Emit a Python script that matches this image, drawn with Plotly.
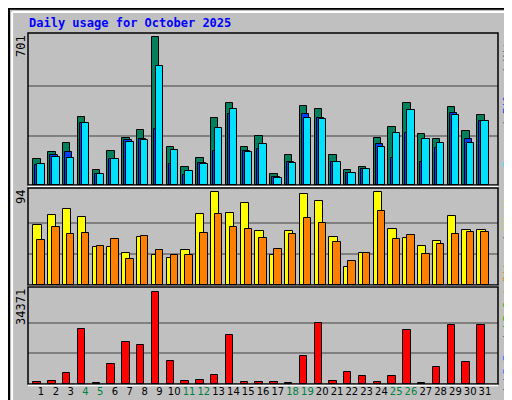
import plotly.graph_objects as go
from plotly.subplots import make_subplots

days = list(range(1, 32))
weekend = [4, 5, 11, 12, 18, 19, 25, 26]

hits = [125, 154, 197, 320, 73, 159, 225, 259, 701, 178, 87, 130, 316, 387, 182, 234,
        54, 140, 373, 358, 144, 73, 87, 225, 273, 387, 240, 220, 368, 254, 330]
files = [94, 140, 154, 292, 52, 125, 211, 216, 263, 98, 49, 106, 159, 335, 159, 170,
         40, 111, 335, 316, 111, 59, 78, 192, 130, 244, 111, 173, 339, 216, 301]
pages = [101, 135, 130, 292, 54, 121, 206, 211, 563, 168, 68, 101, 268, 358, 154, 196,
         35, 106, 316, 311, 111, 59, 78, 178, 244, 354, 220, 201, 330, 201, 301]
visits = [61, 71, 77, 69, 38, 38, 32, 49, 30, 27, 35, 72, 94, 73, 83, 55,
          30, 55, 92, 85, 49, 18, 32, 94, 57, 48, 39, 44, 70, 56, 56]
sites = [45, 59, 52, 53, 39, 47, 26, 50, 35, 30, 30, 53, 72, 59, 57, 48,
         36, 52, 68, 63, 43, 24, 32, 75, 47, 51, 31, 41, 52, 54, 54]
kbytes = [878, 1254, 4265, 20447, 300, 7652, 15931, 14551, 34371, 8781, 1254, 1631,
          3512, 18189, 878, 878, 878, 300, 10662, 22705, 1254, 4641, 3136, 878, 3136,
          20071, 300, 6523, 21952, 8404, 21952]

max_hits, max_visits, max_kb = 701, 94, 34371

fig = make_subplots(rows=3, cols=1)

def bars(values, color, offset, width, row):
    fig.add_trace(go.Bar(x=days, y=values, offset=offset, width=width,
                         marker=dict(color=color, line=dict(color="black", width=1)),
                         showlegend=False), row=row, col=1)

bars(hits, "#00805c", -0.52, 0.5, 1)
bars(files, "#0040ff", -0.38, 0.5, 1)
bars(pages, "#00e0ff", -0.24, 0.5, 1)
bars(visits, "#ffff00", -0.52, 0.56, 2)
bars(sites, "#ff8000", -0.24, 0.5, 2)
bars(kbytes, "#ff0000", -0.52, 0.5, 3)

ticktext = [f'<span style="color:#008040">{d}</span>' if d in weekend else str(d) for d in days]

doms = [(0.5575, 0.9375), (0.3075, 0.55), (0.06, 0.3025)]
ranges = [(max_hits, max_hits * 151 / 147), (max_visits, max_visits * 96.7 / 92.7),
          (max_kb, max_kb * 96.7 / 91.4)]
for i in range(3):
    r = i + 1
    fig.update_xaxes(range=[0.12, 31.88], domain=[20 / 512, 490 / 512],
                     showgrid=False, zeroline=False, row=r, col=1, automargin=False,
                     tickangle=0, tickmode="array",
                     tickvals=days if r == 3 else [], ticktext=ticktext if r == 3 else [],
                     ticks="", tickfont=dict(family="DejaVu Sans", size=10, color="black"))
    m, top = ranges[i]
    fig.update_yaxes(range=[0, top], domain=list(doms[i]), tickvals=[m / 3, 2 * m / 3],
                     showticklabels=False, gridcolor="#808080", gridwidth=1.5,
                     zeroline=False, automargin=False, row=r, col=1)
    y0, y1 = doms[i]
    fig.add_shape(type="rect", xref="paper", yref="paper", x0=20 / 512, x1=490 / 512,
                  y0=y0, y1=y1, line=dict(color="black", width=1.5))
    fig.add_shape(type="line", xref="paper", yref="paper", x0=20 / 512, x1=490 / 512,
                  y0=y0 - 0.004, y1=y0 - 0.004, line=dict(color="white", width=1.5))
    fig.add_annotation(text=f"{m}", xref="paper", yref="paper", x=13 / 512, y=y1,
                       xanchor="center", yanchor="top", textangle=-90, showarrow=False,
                       font=dict(family="DejaVu Sans Mono", size=12, color="black"))

sl = '<span style="color:#606060"> / </span>'
side = [
    f'<span style="color:#00e0ff">Pages</span>{sl}<span style="color:#0040ff">Files</span>{sl}<span style="color:#00805c">Hits</span>',
    f'<span style="color:#ff8000">Sites</span>{sl}<span style="color:#e0e000">Visits</span>',
    f'<span style="color:#ff0000">kB F</span>{sl}<span style="color:#0080ff">kB In</span>{sl}<span style="color:#00c000">kB Out</span>',
]
for i, t in enumerate(side):
    y0, y1 = doms[i]
    fig.add_annotation(text=t, xref="paper", yref="paper", x=499 / 512, y=y1,
                       xanchor="center", yanchor="top", textangle=-90, showarrow=False,
                       font=dict(family="DejaVu Sans Mono", size=11))

fig.add_annotation(text="<b>Daily usage for October 2025</b>", xref="paper", yref="paper",
                   x=19 / 512, y=1 - 15 / 400, xanchor="left", yanchor="middle",
                   showarrow=False, font=dict(family="DejaVu Sans Mono", size=12, color="#0000ff"))

# outer bevelled frame
fig.add_shape(type="rect", xref="paper", yref="paper", x0=0.002, x1=0.998, y0=0.002, y1=0.998,
              line=dict(color="black", width=2))
fig.add_shape(type="line", xref="paper", yref="paper", x0=0.008, x1=0.99, y0=0.99, y1=0.99,
              line=dict(color="white", width=2))
fig.add_shape(type="line", xref="paper", yref="paper", x0=0.008, x1=0.008, y0=0.01, y1=0.99,
              line=dict(color="white", width=2))
fig.add_shape(type="line", xref="paper", yref="paper", x0=0.99, x1=0.99, y0=0.01, y1=0.99,
              line=dict(color="#808080", width=2))
fig.add_shape(type="line", xref="paper", yref="paper", x0=0.008, x1=0.99, y0=0.01, y1=0.01,
              line=dict(color="#808080", width=2))

fig.update_layout(width=512, height=400, margin=dict(l=0, r=0, t=0, b=0),
                  paper_bgcolor="#c0c0c0", plot_bgcolor="#c0c0c0", barmode="overlay",
                  bargap=0)

fig.write_html("out.html")
